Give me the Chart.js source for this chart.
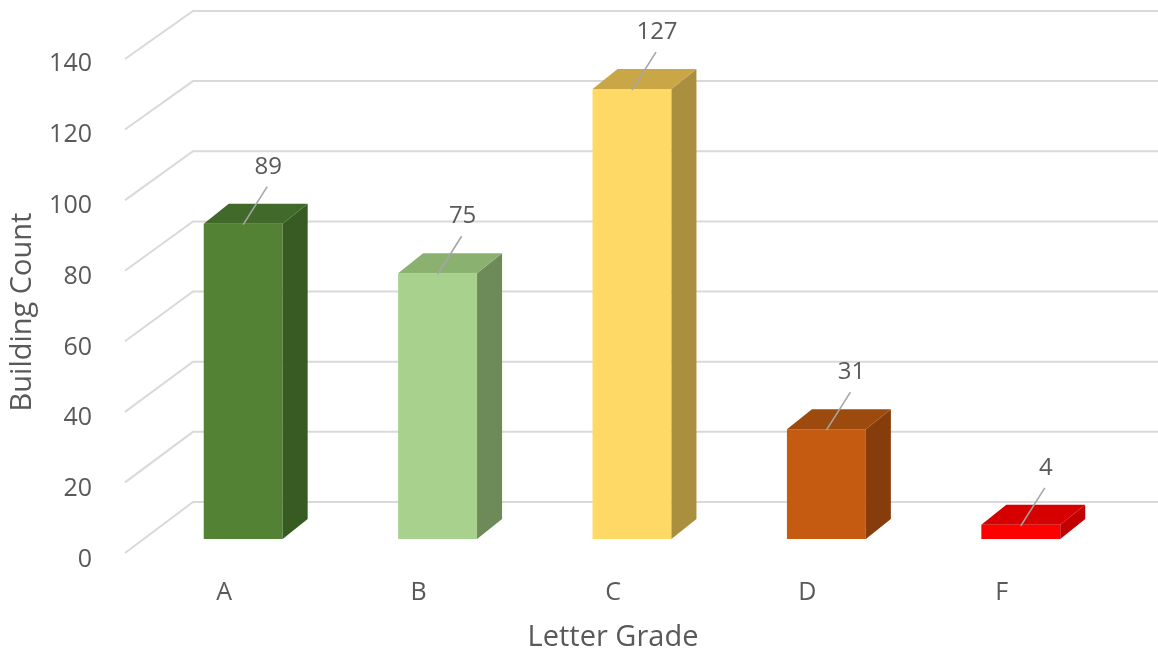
<!DOCTYPE html>
<html>
<head>
<meta charset="utf-8">
<script src="https://cdn.jsdelivr.net/npm/chart.js@4/dist/chart.umd.min.js"></script>
<style>
  html, body { margin: 0; padding: 0; background: #ffffff; overflow: hidden; }
  canvas { display: block; }
</style>
</head>
<body>
<canvas id="chart" width="1158" height="657"></canvas>
<script>
// Building counts per letter grade
const grades = ['A', 'B', 'C', 'D', 'F'];
const buildingCounts = [89, 75, 127, 31, 4];
const yTicks = [0, 20, 40, 60, 80, 100, 120, 140];

// Face colours of the 3D columns
const frontColors = ['#548235', '#A9D18E', '#FFD966', '#C55A11', '#FF0000'];
const topColors   = ['#416A2A', '#8BB170', '#C9A646', '#9C4A0E', '#D60000'];
const sideColors  = ['#385A23', '#6D8B58', '#A98F3E', '#863D0B', '#C20000'];

const TEXT = '#595959';
const GRID = '#D9D9D9';
const FONT = '"Open Sans", "Noto Sans", sans-serif';

// Depth of each column (side/top faces) and of the floor/back wall
const BAR_DEPTH = { dx: 25, dy: -20 };
const WALL = { frontDx: -21, frontDy: 14, backDx: 47, backDy: -37 };

// Perspective gridlines: short diagonal from the front edge to the back wall,
// then a horizontal line across the back wall.
const perspectiveGrid = {
  id: 'perspectiveGrid',
  beforeDatasetsDraw(chart) {
    const { ctx, chartArea, scales: { y } } = chart;
    const y0 = y.getPixelForValue(0);
    ctx.save();
    ctx.strokeStyle = GRID;
    ctx.lineWidth = 2;
    yTicks.forEach(v => {
      const py = y.getPixelForValue(v);
      const fx = chartArea.left + WALL.frontDx;
      const fy = y0 + WALL.frontDy + (py - y0) * 0.996;
      const bx = chartArea.left + WALL.backDx;
      const by = y0 + WALL.backDy + (py - y0) * 0.99;
      ctx.beginPath();
      ctx.moveTo(fx, fy);
      ctx.lineTo(bx, by);
      ctx.lineTo(chart.width, by);
      ctx.stroke();
    });
    ctx.restore();
  }
};

// Top and side faces of each column, plus value labels with leader lines
const columns3d = {
  id: 'columns3d',
  afterDatasetsDraw(chart) {
    const { ctx } = chart;
    const meta = chart.getDatasetMeta(0);
    ctx.save();
    meta.data.forEach((bar, i) => {
      const { x, y, base, width } = bar.getProps(['x', 'y', 'base', 'width'], true);
      const l = x - width / 2, r = x + width / 2;
      const { dx, dy } = BAR_DEPTH;
      // side face
      ctx.fillStyle = sideColors[i];
      ctx.beginPath();
      ctx.moveTo(r, y);
      ctx.lineTo(r + dx, y + dy);
      ctx.lineTo(r + dx, base + dy);
      ctx.lineTo(r, base);
      ctx.closePath();
      ctx.fill();
      // top face
      ctx.fillStyle = topColors[i];
      ctx.beginPath();
      ctx.moveTo(l, y);
      ctx.lineTo(r, y);
      ctx.lineTo(r + dx, y + dy);
      ctx.lineTo(l + dx, y + dy);
      ctx.closePath();
      ctx.fill();
    });
    // value labels
    ctx.font = '24px ' + FONT;
    ctx.textAlign = 'center';
    ctx.textBaseline = 'middle';
    meta.data.forEach((bar, i) => {
      const { x, y } = bar.getProps(['x', 'y'], true);
      const lx = x + 25, ly = y - 58;
      ctx.strokeStyle = '#A6A6A6';
      ctx.lineWidth = 1.6;
      ctx.beginPath();
      ctx.moveTo(lx - 1, ly + 21);
      ctx.lineTo(x, y + 1);
      ctx.stroke();
      ctx.fillStyle = TEXT;
      ctx.fillText(String(buildingCounts[i]), lx, ly + 1);
    });
    ctx.restore();
  }
};

// Axis titles centred on the front edge of the floor / wall
const axisTitles = {
  id: 'axisTitles',
  afterDraw(chart) {
    const { ctx, scales: { x, y } } = chart;
    ctx.save();
    ctx.fillStyle = TEXT;
    ctx.font = '29px ' + FONT;
    ctx.textAlign = 'center';
    ctx.textBaseline = 'middle';
    const first = x.getPixelForValue(0), last = x.getPixelForValue(grades.length - 1);
    const xc = (first + last) / 2 + x.options.ticks.labelOffset;
    ctx.fillText('Letter Grade', xc, 638);
    const top = y.getPixelForValue(yTicks[yTicks.length - 1]);
    const bottom = y.getPixelForValue(0);
    const yc = (top + bottom) / 2 + y.options.ticks.labelOffset;
    ctx.translate(23, yc);
    ctx.rotate(-Math.PI / 2);
    ctx.fillText('Building Count', 0, 0);
    ctx.restore();
  }
};

new Chart(document.getElementById('chart'), {
  type: 'bar',
  data: {
    labels: grades,
    datasets: [{
      label: 'Building Count',
      data: buildingCounts,
      backgroundColor: frontColors,
      borderWidth: 0,
      categoryPercentage: 1,
      barPercentage: 0.406
    }]
  },
  options: {
    responsive: false,
    animation: false,
    events: [],
    layout: { padding: { left: 0, right: 40, top: 43, bottom: 0 } },
    plugins: {
      legend: { display: false },
      tooltip: { enabled: false }
    },
    scales: {
      x: {
        grid: { display: false },
        border: { display: false },
        ticks: {
          color: TEXT,
          font: { family: FONT, size: 25 },
          padding: 31,
          labelOffset: -19
        },
        afterFit(s) { s.height = 118; s.paddingLeft = 0; s.paddingRight = 0; }
      },
      y: {
        min: 0,
        max: 140,
        grid: { display: false },
        border: { display: false },
        ticks: {
          stepSize: 20,
          color: TEXT,
          font: { family: FONT, size: 25 },
          padding: 46,
          labelOffset: 21
        },
        afterFit(s) { s.width = 146; s.paddingTop = 0; s.paddingBottom = 0; }
      }
    }
  },
  plugins: [perspectiveGrid, columns3d, axisTitles]
});
</script>
</body>
</html>
